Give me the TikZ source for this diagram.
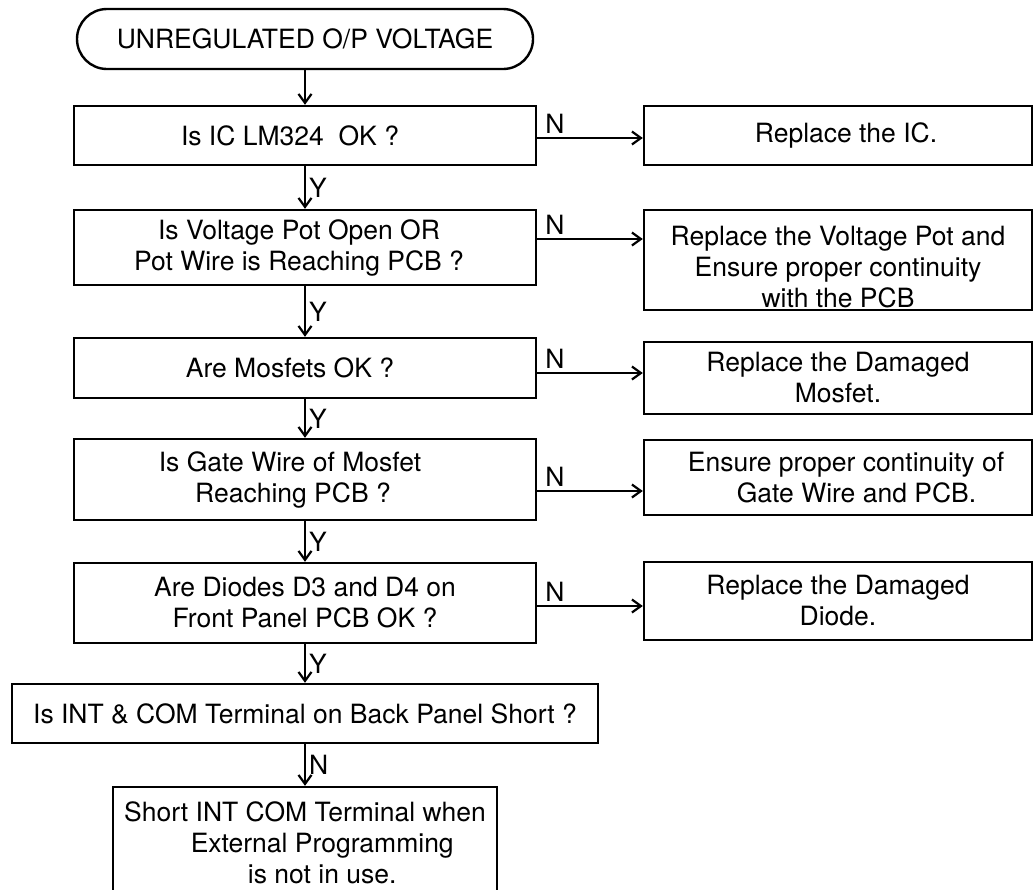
\documentclass[tikz,border=0pt]{standalone}
\usepackage{fontspec}
\setmainfont{TeX Gyre Heros}
\usetikzlibrary{arrows.meta, positioning}

\begin{document}
\begin{tikzpicture}[x=0.5pt, y=-0.5pt, font={\fontsize{13.25pt}{15.5pt}\selectfont}]
	\tikzstyle{start} = [ draw, rectangle, rounded corners=15pt, line width=1.2pt, minimum width=228pt, minimum height=30pt ];
	\tikzstyle{query} = [ draw, rectangle, line width=1.2pt, align=center, minimum width=231pt, inner sep=2pt ];
	\tikzstyle{action} = [ draw, rectangle, line width=1.2pt, align=center, minimum width=194pt, inner sep=2pt ];
	\tikzstyle{point} = [ -{Straight Barb[length=4.5pt, width=6.5pt]}, line width=1.1pt ];
	\tikzstyle{answer} = [ inner sep=1.5pt ];

	\useasboundingbox (0,0) rectangle (1036,889);

	% main column
	\node[start] (s) at (305,39) {UNREGULATED O/P VOLTAGE};
	\node[query, minimum height=29.5pt] (q1) at (305,135.5) {Is IC LM324\ \ OK ?\hspace*{15pt}};
	\node[query, minimum height=37.5pt] (q2) at (305,247.5) {Is Voltage Pot Open OR\hspace*{6pt}\\Pot Wire is Reaching PCB ?\hspace*{6pt}};
	\node[query, minimum height=30pt] (q3) at (305,368) {Are Mosfets OK ?\hspace*{15pt}};
	\node[query, minimum height=40.5pt] (q4) at (305,479.5) {Is Gate Wire of Mosfet\hspace*{15pt}\\Reaching PCB ?\hspace*{12pt}};
	\node[query, minimum height=40pt] (q5) at (305,603) {Are Diodes D3 and D4 on\\Front Panel PCB OK ?};
	\node[query, minimum width=293pt, minimum height=29.5pt] (q6) at (305,713.5) {Is INT \& COM Terminal on Back Panel Short ?};
	\node[query, minimum width=192pt, minimum height=56pt] (q7) at (305,843) {Short INT COM Terminal when\\\hspace*{1.3em}External Programming\\\hspace*{1.3em}is not in use.};

	% remedies
	\node[action, minimum height=29.5pt] (r1) at (838,135.5) {\hspace*{8pt}Replace the IC.};
	\node[action, minimum height=50pt,
		label={[align=center, yshift=-3.5pt]center:Replace the Voltage Pot and\\Ensure proper continuity\\with the PCB}] (r2) at (838,260) {};
	\node[action, minimum height=36pt] (r3) at (838,378) {Replace the Damaged\\Mosfet.};
	\node[action, minimum height=37.5pt] (r4) at (838,477.5) {\hspace*{8pt}Ensure proper continuity of\\\hspace*{1.4em}Gate Wire and PCB.};
	\node[action, minimum height=39pt] (r5) at (838,601) {Replace the Damaged\\Diode.};

	\coordinate (n1) at (0,138);
	\coordinate (n2) at (0,239);
	\coordinate (n3) at (0,373);
	\coordinate (n4) at (0,491);
	\coordinate (n5) at (0,606);

	\draw[point] (s) -- (q1);

	\foreach \a/\b in {q1/q2, q2/q3, q3/q4, q4/q5, q5/q6} {
		\draw[point] (\a) -- node[answer, right]{Y} (\b);
	}
	\draw[point] (q6) -- node[answer, right]{N} (q7);

	\foreach \i in {1,...,5} {
		\draw[point] (q\i.east |- n\i) -- node[answer, at start, above right, xshift=2pt]{N} (r\i.west |- n\i);
	}
\end{tikzpicture}
\end{document}
